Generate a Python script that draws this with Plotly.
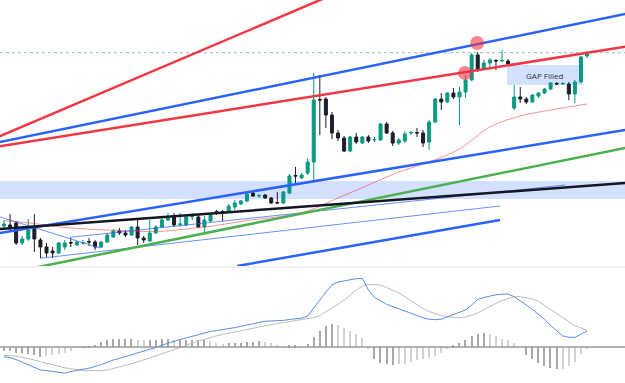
import plotly.graph_objects as go

# ---------------- data (price units, candle index) ----------------
idx = list(range(97))
open_ = [74,75,77,57,61,73,60,53,49,47,
         53,57.5,55,57,58.5,58,53,58,63,69,
         67,65,73,62,59,67,73,80,83,75.5,
         75,83,83,73,79,88.5,88.5,88,93,96,
         99,107,104,105,102,97.5,97,107,124.5,122,
         127,138,200.5,201,185,167,162,149,163,157,
         163,160,160,176,167,157,159,167,167.5,167,
         158,178,201,198,207,203,208,220,245,232,
         237,239.5,239,239,192,203,201,198,204,207,
         211,216.5,216,216,206,218,244]
close = [76,73,57,61,70,61,53,47,47,57,
         57,57,58,57.5,58,53,58,65,69,67,
         65,73,62,60,67,73,80,82,75,76,
         83,83.5,73,80,85,88,88,94,97,99,
         106,104,104.5,102,97,97,108,124,124,125,
         138,200,200,185,167,162,149,163,158,163,
         159,160.5,176,167,157,160,166,167.5,167,157,
         178,201,198,207,203,208,220,245,230,237,
         240,239,239.5,236,203,201,198,205,207,211,
         217,216,216.5,206,218,243,247]
high = [80,86,79,64,81,86,62,57,53,58,
        60,62,59,60,62,60,59,67,71,72,
        70,74,80,64,80,75,82,87,87,87,
        85,87,85,84,87,90,90,96,100,100,
        107,108,106,106,103,108,109,126,133,127,
        142,227,225,203,188,170,164,164,167,164,
        165,163,177,178,169,162,169,169,172,170,
        180,202,207,208,212,213,225,247,248,240,
        242,241,250,241,215,213,203,206,208,212,
        218,218,218,218,220,244,249]
low = [72,68,55,55,59,48,42,43,42,46,
       50,53,54,55,54,50,52,57,62,65,
       63,64,55,57,58,66,72,79,73,73,
       74,80,72,67,78,85,79,87,90,95,
       98,103,102,101,96,96,96,106,115,121,
       125,118,165,172,161,159,148,148,156,156,
       157,158,159,166,154,155,157,165,163,153,
       150,177,190,197,201,175,202,219,228,230,
       230,230,238,234,190,197,196,197,202,206,
       210,215,215,200,197,217,242]

# moving average read every 5 candles
ma_idx = [0,5,10,15,20,25,30,35,40,45,50,55,60,65,70,75,80,85,90,96]
ma_val = [79.5,76.5,72.5,70.5,69.2,68.5,71,74.5,79.5,83,89,102,115,128,138,151,173,184,190,196]

macd = [-9.7,-10.7,-12.6,-15.1,-17.5,-20.2,-23,-23.6,-24.4,-25.4,
        -26.2,-24.6,-23.2,-22.2,-21.2,-19.7,-17.6,-15.5,-13,-11.4,
        -9.7,-8,-6.3,-4.5,-2.9,-0.5,1.8,4,5.8,7.4,
        9,10.6,12.5,14.2,15.6,16.4,17.2,18.2,19.4,20.6,
        22,23.5,25,25.8,26,26,26.6,27.5,28.2,28.9,
        31,39.5,47,55,62,65,66.2,67.6,68.3,68.5,
        57,49.5,46,42.7,40.5,38.3,36.5,34.2,31.7,29.2,
        27.8,27.3,27.8,30,32,34.3,37,42,47.5,49.5,
        51,52.2,52.8,53,50.3,46.4,42,37.5,32.7,27.6,
        21.5,16,11,9.7,9.6,12.8,16]
signal = [-8.5,-8.7,-9,-10.3,-11.5,-13,-14.7,-16.3,-17.6,-19.4,
          -20.8,-21.8,-22.8,-23.5,-23.7,-24,-23.6,-23,-21.6,-20,
          -18.2,-16.8,-15,-13.1,-11.2,-9.2,-7.1,-4.8,-2.6,-0.2,
          1.9,3.9,5.7,7.6,9.5,11.2,12.5,13.8,15.1,16.4,
          17.7,18.9,20.2,21.3,22.4,23.4,24.4,25.3,26.1,26.9,
          27.9,29.5,31.5,35,38.5,42.7,47,52,57,60.7,
          62.2,62.5,61.8,59.5,56.7,54,50.2,46.5,42,38.5,
          35.5,33.5,31.3,30.2,29.4,29.4,30,31.8,34,37.5,
          40.8,43.7,46.6,48.4,50,50.3,49.5,48,45.6,41.8,
          37.8,33.6,29.5,25.3,21.3,19,16.7]
hist = [-4,-4,-6,-6,-7,-8,-10,-9,-8,-7,
        -6,-4,-0.5,0.5,1.5,2,5,7,8,8,
        8,8,7.3,7,7,7,7.7,8,7,7,
        7,7,7,7,6,4.3,2.7,3.7,3.7,4.3,
        4.7,5,5.7,5,3.7,2.3,1,1.7,1.7,1,
        2.7,10,16,21,22.7,22,19,16,12.7,8.7,
        -1.7,-12.3,-16.3,-17.3,-18.3,-17.3,-16.7,-15,-13.3,-12.3,
        -10.7,-9,-6.3,-1.7,1.7,3.7,7,11,13.3,14.3,
        12.7,11,8.3,7,4.3,0,-8.3,-12.3,-15.7,-19,
        -20.7,-22.3,-21.7,-19,-15,-7.3,-1.7]

# drawn trend lines: (start index, end index), (start price, end price)
red_steep_x, red_steep_y = [-1, 56], [163.1, 310.2]
red_flat_x, red_flat_y = [-1, 103], [153.4, 254.0]
blue_top_x, blue_top_y = [-1, 103], [157.6, 286.9]
blue_mid_x, blue_mid_y = [-1, 103], [66.7, 170.75]
black_x, black_y = [-1, 103], [70.85, 117.3]
green_x, green_y = [-1, 103], [24.8, 152.9]
blue_low_x, blue_low_y = [38.4, 81.67], [34.0, 80.0]
thin_desc_x, thin_desc_y = [-0.66, 15.81], [83, 52]
thin_up1_x, thin_up1_y = [10.87, 92.38], [62.7, 115]
thin_up2_x, thin_up2_y = [5.93, 81.67], [41.7, 94]
touch_x, touch_y = [77.9, 75.9], [257, 227]
dotted_level = 247.3
zone_low, zone_high = 101, 119
gap_x0, gap_x1, gap_y0, gap_y1 = 82.83, 95.18, 215, 235
gap_label = "GAP Filled"

TEAL = "#089981"
DARK = "#1c1f2b"
RED = "#f23645"
BLUE = "#2962ff"

fig = go.Figure()

# zone and gap rectangles
fig.add_shape(type="rect", xref="paper", x0=0, x1=1, yref="y", y0=zone_low, y1=zone_high,
              fillcolor="rgba(41,98,255,0.2)", line_width=0, layer="below")
fig.add_shape(type="rect", xref="x", x0=gap_x0, x1=gap_x1, yref="y", y0=gap_y0, y1=gap_y1,
              fillcolor="rgba(41,98,255,0.2)", line_width=0, layer="below")
fig.add_shape(type="line", xref="paper", x0=0, x1=1, yref="y", y0=dotted_level, y1=dotted_level,
              line=dict(color="rgba(90,170,150,0.7)", width=1, dash="dot"), layer="below")

fig.add_trace(go.Scatter(x=ma_idx, y=ma_val, mode="lines", line=dict(color="rgba(242,54,69,0.55)", width=1, shape="spline"),
                         xaxis="x", yaxis="y", hoverinfo="skip"))

fig.add_trace(go.Candlestick(x=idx, open=open_, high=high, low=low, close=close,
                             increasing=dict(line=dict(color=TEAL, width=1), fillcolor=TEAL),
                             decreasing=dict(line=dict(color=DARK, width=1), fillcolor=DARK),
                             whiskerwidth=0, xaxis="x", yaxis="y"))

def line(xs, ys, color, width):
    fig.add_trace(go.Scatter(x=xs, y=ys, mode="lines", line=dict(color=color, width=width),
                             xaxis="x", yaxis="y", hoverinfo="skip"))

line(thin_desc_x, thin_desc_y, "rgba(41,98,255,0.7)", 1)
line(thin_up1_x, thin_up1_y, "rgba(41,98,255,0.7)", 1)
line(thin_up2_x, thin_up2_y, "rgba(41,98,255,0.7)", 1)
line(red_steep_x, red_steep_y, RED, 2.5)
line(red_flat_x, red_flat_y, RED, 2.5)
line(blue_top_x, blue_top_y, BLUE, 2.5)
line(blue_mid_x, blue_mid_y, BLUE, 2.5)
line(green_x, green_y, "#4caf50", 2.5)
line(black_x, black_y, "#131722", 2.5)
line(blue_low_x, blue_low_y, BLUE, 2.5)

fig.add_trace(go.Scatter(x=touch_x, y=touch_y, mode="markers",
                         marker=dict(size=14, color="rgba(242,54,69,0.6)", line_width=0),
                         xaxis="x", yaxis="y", hoverinfo="skip"))

fig.add_annotation(x=(gap_x0 + gap_x1) / 2, y=(gap_y0 + gap_y1) / 2, xref="x", yref="y",
                   text=gap_label, showarrow=False, font=dict(size=8, color="#2a2e39", family="Open Sans"))

# MACD panel
hist_colors = []
for k, h in enumerate(hist):
    prev = hist[k - 1] if k > 0 else h
    grow = abs(h) >= abs(prev)
    hist_colors.append("#a8a8a8" if grow else "#d2d2d2")
fig.add_trace(go.Bar(x=idx, y=hist, width=0.2, marker=dict(color=hist_colors, line_width=0),
                     xaxis="x2", yaxis="y2", hoverinfo="skip"))
fig.add_shape(type="line", xref="paper", x0=0, x1=1, yref="y2", y0=0, y1=0,
              line=dict(color="#9a9a9a", width=1.5))
fig.add_trace(go.Scatter(x=idx, y=signal, mode="lines", line=dict(color="#bdbdbd", width=1),
                         xaxis="x2", yaxis="y2", hoverinfo="skip"))
fig.add_trace(go.Scatter(x=idx, y=macd, mode="lines", line=dict(color="#5b8def", width=1),
                         xaxis="x2", yaxis="y2", hoverinfo="skip"))

# pane separator
fig.add_shape(type="rect", xref="paper", yref="paper", x0=0, x1=1, y0=0.3003, y1=0.3055,
              fillcolor="#eef0f3", line_width=0)

ax = dict(showgrid=False, zeroline=False, showticklabels=False, showline=False, ticks="",
          fixedrange=True)
fig.update_layout(
    width=625, height=383, margin=dict(l=0, r=0, t=0, b=0),
    paper_bgcolor="white", plot_bgcolor="white", showlegend=False,
    xaxis=dict(ax, range=[-0.659, 102.25], anchor="y", rangeslider=dict(visible=False)),
    yaxis=dict(ax, range=[34, 300], domain=[0.3055, 1]),
    xaxis2=dict(ax, range=[-0.659, 102.25], anchor="y2", matches="x"),
    yaxis2=dict(ax, range=[-36, 79], domain=[0, 0.3003]),
    bargap=0,
)
fig.write_html("out.html", config={"displayModeBar": False})
